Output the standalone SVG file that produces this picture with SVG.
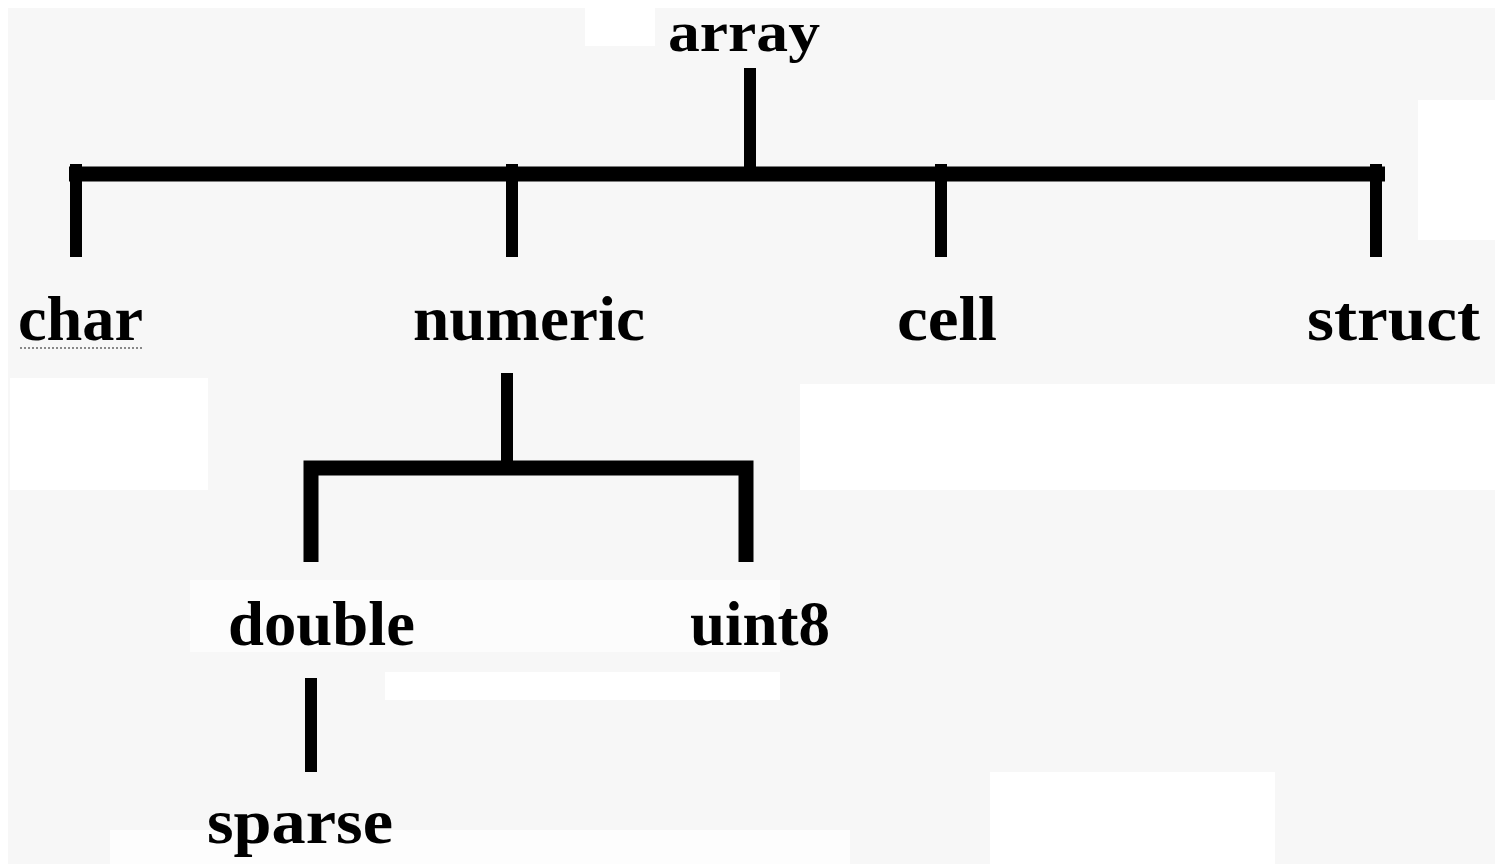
<svg xmlns="http://www.w3.org/2000/svg" width="1495" height="864" viewBox="0 0 1495 864">
<style>
.lbl{font-family:"Liberation Serif","Times New Roman",serif;font-weight:bold;font-size:64px;fill:#000}
.top{font-size:56px}
.edge{stroke:#000;stroke-width:12;fill:none;stroke-linecap:butt}
.bar{stroke:#000;stroke-width:15;fill:none}
.patch{fill:#ffffff}
</style>
<rect x="0" y="0" width="1495" height="864" fill="#f7f7f7"/>
<g id="background-patches">
<rect class="patch" x="0" y="0" width="1495" height="8"/>
<rect class="patch" x="0" y="0" width="8" height="864"/>
<rect class="patch" x="585" y="8" width="70" height="38"/>
<rect class="patch" x="1418" y="100" width="77" height="140"/>
<rect class="patch" x="10" y="378" width="198" height="112"/>
<rect class="patch" x="800" y="384" width="695" height="106"/>
<rect class="patch" x="190" y="580" width="590" height="72" opacity="0.6"/>
<rect class="patch" x="385" y="672" width="395" height="28"/>
<rect class="patch" x="990" y="772" width="285" height="92"/>
<rect class="patch" x="110" y="830" width="740" height="34" opacity="0.7"/>
</g>
<g id="connectors">
<line class="edge" x1="750" y1="68" x2="750" y2="168"/>
<line class="bar" x1="69" y1="174" x2="1385" y2="174"/>
<line class="edge" x1="76" y1="164" x2="76" y2="257"/>
<line class="edge" x1="512" y1="164" x2="512" y2="257"/>
<line class="edge" x1="941" y1="164" x2="941" y2="257"/>
<line class="edge" x1="1376" y1="164" x2="1376" y2="257"/>
<line class="edge" x1="507" y1="373" x2="507" y2="468" stroke-width="10"/>
<path class="bar" d="M311,562 V468 H746 V562" stroke-width="13"/>
<line class="edge" x1="311" y1="678" x2="311" y2="772" stroke-width="11"/>
</g>
<g id="node-array"><text class="lbl top" x="668" y="51" textLength="152" lengthAdjust="spacingAndGlyphs">array</text></g>
<g id="node-char"><text class="lbl" x="18" y="340" textLength="125" lengthAdjust="spacingAndGlyphs">char</text>
<line x1="20" y1="348" x2="142" y2="348" stroke="#888" stroke-width="2" stroke-dasharray="2,2"/></g>
<g id="node-numeric"><text class="lbl" x="413" y="340" textLength="232" lengthAdjust="spacingAndGlyphs">numeric</text></g>
<g id="node-cell"><text class="lbl" x="897" y="340" textLength="100" lengthAdjust="spacingAndGlyphs">cell</text></g>
<g id="node-struct"><text class="lbl" x="1307" y="340" textLength="173" lengthAdjust="spacingAndGlyphs">struct</text></g>
<g id="node-double"><text class="lbl" x="228" y="645" textLength="187" lengthAdjust="spacingAndGlyphs">double</text></g>
<g id="node-uint8"><text class="lbl" x="690" y="645" textLength="140" lengthAdjust="spacingAndGlyphs">uint8</text></g>
<g id="node-sparse"><text class="lbl" x="207" y="843" textLength="186" lengthAdjust="spacingAndGlyphs">sparse</text></g>
</svg>
